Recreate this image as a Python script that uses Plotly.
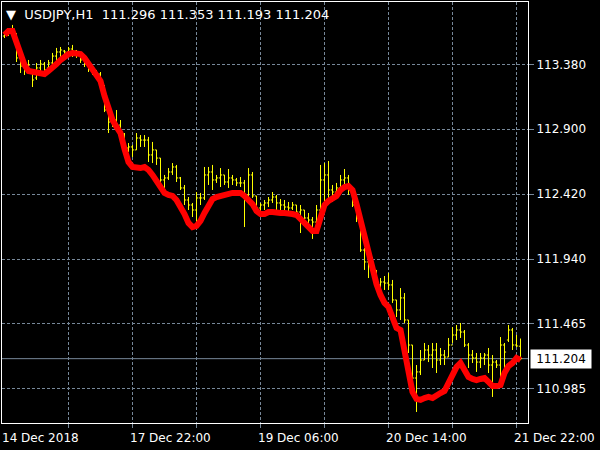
import plotly.graph_objects as go

# ---------------- data (USDJPY, H1) ----------------
bar_index = list(range(130))

opens = [113.589, 113.611, 113.634, 113.597, 113.427, 113.367, 113.353, 113.331, 113.279, 113.353,
         113.382, 113.353, 113.390, 113.441, 113.471, 113.478, 113.471, 113.493, 113.478, 113.449,
         113.412, 113.382, 113.353, 113.316, 113.308, 113.220, 113.042, 112.953, 112.968, 112.931,
         112.865, 112.761, 112.769, 112.747, 112.835, 112.820, 112.820, 112.710, 112.747, 112.687,
         112.525, 112.540, 112.584, 112.621, 112.540, 112.466, 112.377, 112.340, 112.303, 112.392,
         112.392, 112.562, 112.584, 112.525, 112.540, 112.562, 112.510, 112.540, 112.525, 112.503,
         112.503, 112.414, 112.562, 112.407, 112.318, 112.340, 112.355, 112.377, 112.399, 112.355,
         112.340, 112.325, 112.318, 112.340, 112.288, 112.303, 112.244, 112.229, 112.214, 112.303,
         112.525, 112.562, 112.451, 112.436, 112.466, 112.525, 112.540, 112.451, 112.340, 112.244,
         112.007, 111.919, 111.919, 111.845, 111.749, 111.771, 111.763, 111.749, 111.638, 111.564,
         111.653, 111.490, 111.305, 111.061, 111.106, 111.194, 111.268, 111.231, 111.268, 111.194,
         111.231, 111.216, 111.305, 111.379, 111.416, 111.401, 111.305, 111.231, 111.209, 111.179,
         111.209, 111.231, 111.157, 111.179, 111.157, 111.305, 111.342, 111.416, 111.305, 111.296]

highs = [113.619, 113.648, 113.671, 113.611, 113.449, 113.397, 113.412, 113.338, 113.390, 113.412,
         113.397, 113.412, 113.464, 113.501, 113.508, 113.486, 113.508, 113.523, 113.486, 113.464,
         113.427, 113.390, 113.353, 113.338, 113.323, 113.227, 113.057, 112.990, 113.042, 112.968,
         112.872, 112.798, 112.783, 112.872, 112.857, 112.857, 112.843, 112.806, 112.747, 112.687,
         112.562, 112.613, 112.650, 112.636, 112.547, 112.488, 112.399, 112.355, 112.436, 112.429,
         112.621, 112.621, 112.636, 112.562, 112.613, 112.562, 112.606, 112.562, 112.540, 112.547,
         112.525, 112.613, 112.584, 112.407, 112.355, 112.377, 112.399, 112.436, 112.414, 112.384,
         112.377, 112.362, 112.362, 112.340, 112.340, 112.303, 112.281, 112.251, 112.340, 112.636,
         112.650, 112.665, 112.488, 112.503, 112.562, 112.606, 112.562, 112.466, 112.355, 112.244,
         112.022, 111.970, 111.956, 111.860, 111.800, 111.815, 111.837, 111.786, 111.638, 111.726,
         111.689, 111.490, 111.305, 111.157, 111.268, 111.320, 111.305, 111.320, 111.320, 111.283,
         111.268, 111.357, 111.438, 111.453, 111.468, 111.416, 111.320, 111.268, 111.246, 111.246,
         111.246, 111.283, 111.231, 111.194, 111.364, 111.320, 111.453, 111.431, 111.379, 111.353]

lows = [113.574, 113.589, 113.582, 113.397, 113.316, 113.301, 113.338, 113.212, 113.264, 113.301,
        113.316, 113.338, 113.360, 113.390, 113.434, 113.449, 113.464, 113.434, 113.427, 113.390,
        113.360, 113.323, 113.301, 113.286, 113.242, 113.027, 112.872, 112.917, 112.894, 112.857,
        112.710, 112.732, 112.695, 112.747, 112.769, 112.769, 112.658, 112.650, 112.636, 112.473,
        112.466, 112.525, 112.562, 112.510, 112.451, 112.340, 112.303, 112.251, 112.207, 112.340,
        112.377, 112.488, 112.451, 112.503, 112.473, 112.488, 112.466, 112.488, 112.480, 112.473,
        112.177, 112.399, 112.392, 112.288, 112.266, 112.303, 112.325, 112.355, 112.303, 112.296,
        112.288, 112.281, 112.303, 112.251, 112.133, 112.192, 112.177, 112.089, 112.177, 112.207,
        112.355, 112.377, 112.362, 112.414, 112.451, 112.488, 112.414, 112.325, 112.214, 111.993,
        111.860, 111.800, 111.823, 111.712, 111.712, 111.712, 111.712, 111.616, 111.512, 111.490,
        111.468, 111.246, 111.024, 110.810, 111.083, 111.194, 111.179, 111.135, 111.098, 111.157,
        111.157, 111.216, 111.320, 111.342, 111.357, 111.290, 111.135, 111.172, 111.106, 111.135,
        111.157, 111.098, 110.921, 111.135, 111.046, 111.120, 111.327, 111.268, 111.290, 111.193]

closes = [113.611, 113.634, 113.597, 113.427, 113.367, 113.353, 113.375, 113.264, 113.353, 113.382,
          113.338, 113.390, 113.441, 113.471, 113.486, 113.471, 113.493, 113.478, 113.449, 113.412,
          113.382, 113.353, 113.316, 113.308, 113.249, 113.042, 112.953, 112.968, 112.931, 112.872,
          112.761, 112.769, 112.747, 112.835, 112.820, 112.820, 112.710, 112.747, 112.687, 112.525,
          112.540, 112.584, 112.621, 112.540, 112.466, 112.377, 112.340, 112.303, 112.392, 112.392,
          112.562, 112.584, 112.525, 112.540, 112.562, 112.510, 112.540, 112.525, 112.503, 112.503,
          112.414, 112.562, 112.407, 112.318, 112.340, 112.355, 112.377, 112.399, 112.355, 112.340,
          112.325, 112.318, 112.340, 112.288, 112.303, 112.244, 112.229, 112.214, 112.303, 112.525,
          112.562, 112.451, 112.436, 112.466, 112.525, 112.540, 112.451, 112.340, 112.244, 112.007,
          111.919, 111.919, 111.845, 111.749, 111.771, 111.763, 111.749, 111.638, 111.564, 111.653,
          111.490, 111.305, 111.061, 111.106, 111.194, 111.268, 111.231, 111.268, 111.194, 111.231,
          111.216, 111.305, 111.379, 111.416, 111.401, 111.305, 111.231, 111.209, 111.179, 111.209,
          111.231, 111.157, 111.179, 111.157, 111.305, 111.253, 111.416, 111.305, 111.298, 111.204]

# red smoothed indicator line
ma_line = [113.597, 113.626, 113.626, 113.545, 113.449, 113.375, 113.331, 113.323, 113.323, 113.316,
           113.308, 113.331, 113.353, 113.382, 113.412, 113.434, 113.456, 113.464, 113.464, 113.456,
           113.427, 113.382, 113.338, 113.301, 113.257, 113.146, 113.042, 112.968, 112.917, 112.872,
           112.754, 112.658, 112.621, 112.613, 112.613, 112.621, 112.599, 112.562, 112.517, 112.473,
           112.429, 112.414, 112.407, 112.377, 112.333, 112.273, 112.207, 112.177, 112.185, 112.222,
           112.281, 112.340, 112.384, 112.399, 112.407, 112.421, 112.429, 112.429, 112.429, 112.429,
           112.407, 112.384, 112.347, 112.296, 112.273, 112.273, 112.288, 112.288, 112.281, 112.281,
           112.281, 112.281, 112.273, 112.266, 112.237, 112.207, 112.170, 112.148, 112.148, 112.229,
           112.340, 112.370, 112.384, 112.407, 112.451, 112.473, 112.480, 112.451, 112.347, 112.229,
           112.103, 111.978, 111.860, 111.756, 111.675, 111.616, 111.586, 111.512, 111.431, 111.416,
           111.261, 111.113, 110.958, 110.906, 110.899, 110.913, 110.921, 110.913, 110.936, 110.950,
           110.965, 111.024, 111.083, 111.142, 111.172, 111.120, 111.069, 111.054, 111.046, 111.054,
           111.061, 111.032, 111.002, 111.002, 111.009, 111.098, 111.150, 111.172, 111.209, 111.194]

price_ticks = [113.380, 112.900, 112.420, 111.940, 111.465, 110.985]
price_labels = ["113.380", "112.900", "112.420", "111.940", "111.465", "110.985"]
grid_bars = [16, 32, 48, 64, 80, 96, 112, 128]
time_ticks = [0, 32, 64, 96, 128]
time_labels = ["14 Dec 2018", "17 Dec 22:00", "19 Dec 06:00", "20 Dec 14:00", "21 Dec 22:00"]
last_price = 111.204
header = "▼\u00a0\u00a0USDJPY,H1\u00a0\u00a0111.296 111.353 111.193 111.204"

# ---------------- figure ----------------
FONT = "DejaVu Sans"
GRID = "#778899"

fig = go.Figure()
fig.add_trace(go.Ohlc(
    x=bar_index, open=opens, high=highs, low=lows, close=closes,
    increasing=dict(line=dict(color="#ffff00", width=1)),
    decreasing=dict(line=dict(color="#ffff00", width=1)),
    tickwidth=0.4, hoverinfo="skip", showlegend=False,
))
fig.add_trace(go.Scatter(
    x=bar_index, y=ma_line, mode="lines",
    line=dict(color="#ff0000", width=6), hoverinfo="skip", showlegend=False,
))

fig.add_shape(type="line", xref="paper", x0=0, x1=1, yref="y", y0=last_price, y1=last_price,
              line=dict(color=GRID, width=1), layer="below")

annotations = [
    dict(text=header, xref="paper", x=0, xanchor="left", xshift=2,
         yref="paper", y=1, yanchor="top", yshift=-3, showarrow=False,
         font=dict(family=FONT, size=13, color="#ffffff")),
    dict(text=f"{last_price:.3f}", xref="paper", x=1, xanchor="left", xshift=2,
         yref="y", y=last_price, yanchor="middle", showarrow=False,
         bgcolor="#ffffff", borderpad=2, width=56, height=14, align="center",
         font=dict(family=FONT, size=12, color="#000000")),
]
for tv, tl in zip(time_ticks, time_labels):
    annotations.append(dict(text=tl, xref="x", x=tv, xanchor="left", xshift=-5,
                            yref="paper", y=0, yanchor="top", yshift=-6, showarrow=False,
                            font=dict(family=FONT, size=12, color="#ffffff")))

fig.update_layout(
    width=600, height=450,
    paper_bgcolor="#000000", plot_bgcolor="#000000",
    margin=dict(l=2, r=72, t=2, b=27),
    showlegend=False,
    annotations=annotations,
    xaxis=dict(range=[-0.625, 130.875], tickvals=grid_bars, showticklabels=False,
               showgrid=True, gridcolor=GRID, griddash="3px,2px", gridwidth=1,
               ticks="outside", ticklen=4, tickcolor=GRID,
               showline=True, mirror=True, linecolor="#ffffff", linewidth=1,
               zeroline=False, rangeslider=dict(visible=False), fixedrange=True),
    yaxis=dict(range=[110.7285, 113.8405], side="right",
               tickvals=price_ticks, ticktext=price_labels,
               showgrid=True, gridcolor=GRID, griddash="3px,2px", gridwidth=1,
               ticks="outside", ticklen=5, tickcolor=GRID,
               tickfont=dict(family=FONT, size=12, color="#ffffff"),
               showline=True, mirror=True, linecolor="#ffffff", linewidth=1,
               zeroline=False, fixedrange=True),
)

fig.write_html("out.html", config={"displayModeBar": False},
               post_script="document.body.style.margin='0';document.body.style.background='#000';")
